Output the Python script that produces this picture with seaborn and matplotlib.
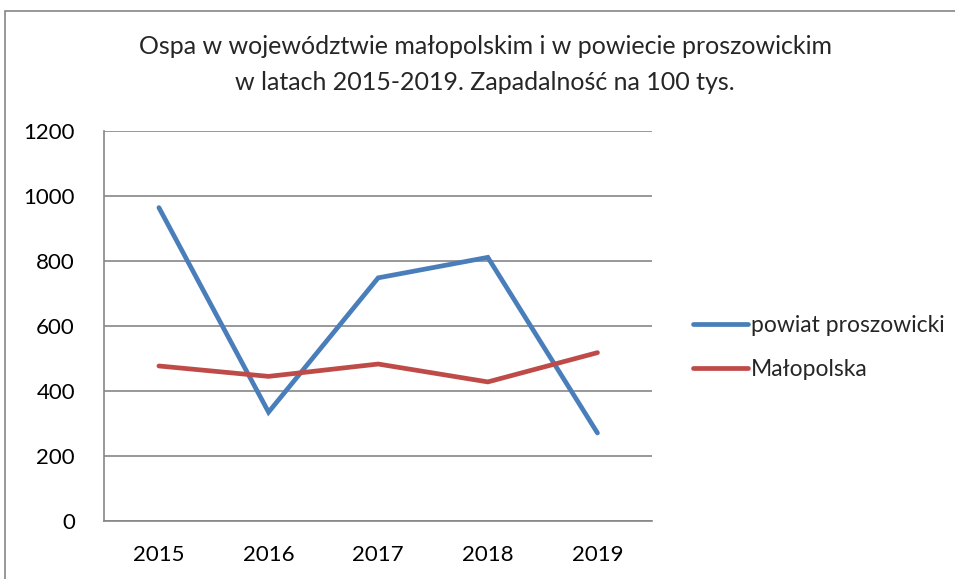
import pandas as pd
import seaborn as sns
import matplotlib.pyplot as plt
from matplotlib.patches import Rectangle

years = ['2015', '2016', '2017', '2018', '2019']
powiat = [964, 335, 748, 811, 271]
malopolska = [477, 445, 483, 428, 518]
series_names = ['powiat proszowicki', 'Małopolska']
yticks = [0, 200, 400, 600, 800, 1000, 1200]

df = pd.DataFrame({
    'rok': years * 2,
    'wartosc': powiat + malopolska,
    'seria': [series_names[0]] * 5 + [series_names[1]] * 5,
})

sns.set_style('white')
plt.rcParams['font.family'] = ['Lato', 'DejaVu Sans']

fig = plt.figure(figsize=(9.55, 5.79), dpi=100)
ax = fig.add_axes([0.109, 0.1, 0.574, 0.674])

sns.lineplot(data=df, x='rok', y='wartosc', hue='seria', sort=False,
             palette=['#4A7EBB', '#BE4B48'], linewidth=3.4,
             solid_capstyle='round', solid_joinstyle='miter', ax=ax)

ax.set_xlim(-0.5, 4.5)
ax.set_ylim(0, 1200)
ax.set_yticks(yticks)
ax.yaxis.grid(True, color='#868686', linewidth=1.2)
ax.set_axisbelow(True)
ax.tick_params(axis='both', length=0, labelsize=16, colors='black')
ax.tick_params(axis='x', pad=17)
ax.tick_params(axis='y', pad=21)
ax.set_xlabel('')
ax.set_ylabel('')
for side in ['top', 'right']:
    ax.spines[side].set_visible(False)
for side in ['left', 'bottom']:
    ax.spines[side].set_color('#868686')
    ax.spines[side].set_linewidth(1.2)

leg = ax.legend(loc='center left', bbox_to_anchor=(1.058, 0.445), frameon=False,
                fontsize=16.5, handlelength=2.4, handletextpad=0.1,
                labelspacing=1.0, borderaxespad=0)
for h in leg.legend_handles:
    h.set_linewidth(3.4)
    h.set_solid_capstyle('round')

fig.text(0.508, 0.92, 'Ospa w województwie małopolskim i w powiecie proszowickim',
         ha='center', va='center', fontsize=18)
fig.text(0.508, 0.858, 'w latach 2015-2019. Zapadalność na 100 tys.',
         ha='center', va='center', fontsize=18)

fig.patches.append(Rectangle((4.5 / 955, -0.1), 1.2, 1.1 - 11.5 / 579,
                             transform=fig.transFigure, fill=False,
                             edgecolor='#868686', linewidth=1.2))

fig.savefig('out.png', dpi=100)
